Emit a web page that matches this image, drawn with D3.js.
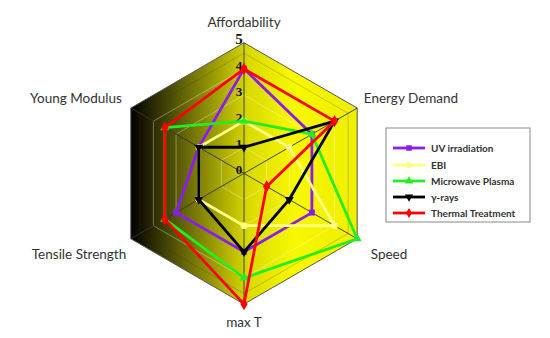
<!DOCTYPE html>
<html>
<head>
<meta charset="utf-8" />
<title>radar</title>
<script src="https://cdn.jsdelivr.net/npm/d3@7"></script>
<style>
  body { margin: 0; background: #fff; }
  svg text { font-family: Lato, "Open Sans", sans-serif; }
</style>
</head>
<body>
<div id="chart"></div>
<script>
var axes = ["Affordability", "Energy Demand", "Speed", "max T", "Tensile Strength", "Young Modulus"];
var seriesNames = ["UV irradiation", "EBI", "Microwave Plasma", "\u03b3-rays", "Thermal Treatment"];
var uv = [4, 3, 3, 3, 3, 2];
var ebi = [2, 2, 4, 2, 2, 2];
var microwave = [2, 3, 5, 4, 3.5, 3.5];
var gamma = [1, 4, 2, 3, 2, 2];
var thermal = [4, 4, 1, 5, 3.5, 3.5];
var ticks = [0, 1, 2, 3, 4, 5];

var colors = ["#8b1cf0", "#ffff80", "#22ee22", "#000000", "#ff0000"];
var symbols = [d3.symbolSquare, d3.symbolCircle, d3.symbolTriangle, d3.symbolTriangle, d3.symbolDiamond];
var values = [uv, ebi, microwave, gamma, thermal];

var width = 550, height = 338;
var cx = 244, cy = 173.4, R = 130.7;

var svg = d3.select("#chart").append("svg")
    .attr("width", width)
    .attr("height", height);

var r = d3.scaleLinear().domain([0, 5]).range([0, R]);
var angle = d3.scalePoint().domain(axes).range([0, 2 * Math.PI * 5 / 6]);

function pt(axis, v) {
    var a = angle(axis) - Math.PI / 2;
    return [cx + r(v) * Math.cos(a), cy + r(v) * Math.sin(a)];
}

var defs = svg.append("defs");
var grad = defs.append("linearGradient")
    .attr("id", "bg")
    .attr("gradientUnits", "userSpaceOnUse")
    .attr("x1", cx - R * 0.866).attr("x2", cx + R * 0.866)
    .attr("y1", 0).attr("y2", 0);
grad.append("stop").attr("offset", "0").attr("stop-color", "#000000");
grad.append("stop").attr("offset", "0.25").attr("stop-color", "#6a6a08");
grad.append("stop").attr("offset", "0.52").attr("stop-color", "#dada00");
grad.append("stop").attr("offset", "0.72").attr("stop-color", "#f8f800");
grad.append("stop").attr("offset", "1").attr("stop-color", "#eeee00");

var line = d3.line();

// background hexagon
svg.append("path")
    .attr("d", line(axes.map(function (a) { return pt(a, 5); })) + "Z")
    .attr("fill", "url(#bg)")
    .attr("stroke", "#555")
    .attr("stroke-width", 1);

// grid
var g = svg.append("g");
[1, 2, 3, 4].forEach(function (t) {
    g.append("path")
        .attr("d", line(axes.map(function (a) { return pt(a, t); })) + "Z")
        .attr("fill", "none")
        .attr("stroke", "rgba(255,255,255,0.35)")
        .attr("stroke-width", 1);
});
g.append("path")
    .attr("d", line(axes.map(function (a) { return pt(a, 4.6); })) + "Z")
    .attr("fill", "none")
    .attr("stroke", "rgba(60,60,0,0.3)")
    .attr("stroke-width", 0.8);
axes.forEach(function (a) {
    var p = pt(a, 5);
    g.append("line")
        .attr("x1", cx).attr("y1", cy)
        .attr("x2", p[0]).attr("y2", p[1])
        .attr("stroke", "#333")
        .attr("stroke-width", 0.9);
});

// tick labels
svg.selectAll(".tick")
    .data(ticks)
    .enter().append("text")
    .attr("class", "tick")
    .attr("x", cx - 5)
    .attr("y", function (d) { return cy - r(d) + 1; })
    .attr("text-anchor", "middle")
    .style("font-family", "'Liberation Serif', 'DejaVu Serif', serif")
    .style("font-weight", "bold")
    .style("font-size", function (d) { return d == 5 ? "15px" : "13px"; })
    .attr("fill", "#111")
    .text(function (d) { return d; });

// series
values.forEach(function (vals, i) {
    var pts = axes.map(function (a, j) { return pt(a, vals[j]); });
    svg.append("path")
        .attr("d", line(pts) + "Z")
        .attr("fill", "none")
        .attr("stroke", colors[i])
        .attr("stroke-width", 2.8)
        .attr("stroke-linejoin", "round");
    svg.selectAll(".m" + i)
        .data(pts)
        .enter().append("path")
        .attr("class", "m" + i)
        .attr("transform", function (d) {
            return "translate(" + d[0] + "," + d[1] + ")" + (i == 3 ? " rotate(180)" : "");
        })
        .attr("d", d3.symbol().type(symbols[i]).size(i == 4 ? 45 : 35))
        .attr("fill", colors[i]);
});

// axis labels
var labelPos = {
    "Affordability": [244, 27],
    "Energy Demand": [411, 103],
    "Speed": [389, 259],
    "max T": [244, 327],
    "Tensile Strength": [79, 259],
    "Young Modulus": [76, 103]
};
axes.forEach(function (a) {
    svg.append("text")
        .attr("x", labelPos[a][0])
        .attr("y", labelPos[a][1])
        .attr("text-anchor", "middle")
        .style("font-size", "13.5px")
        .attr("fill", "#333")
        .text(a);
});

// legend
var lg = svg.append("g").attr("transform", "translate(386,128)");
lg.append("rect")
    .attr("width", 144).attr("height", 94)
    .attr("fill", "#fff")
    .attr("stroke", "#888")
    .attr("stroke-width", 1);
var rows = [20, 37, 53, 69, 85];
seriesNames.forEach(function (n, i) {
    var y = rows[i];
    lg.append("line")
        .attr("x1", 7).attr("x2", 39)
        .attr("y1", y).attr("y2", y)
        .attr("stroke", colors[i])
        .attr("stroke-width", 2.8);
    lg.append("path")
        .attr("transform", "translate(23," + y + ")" + (i == 3 ? " rotate(180)" : ""))
        .attr("d", d3.symbol().type(symbols[i]).size(30))
        .attr("fill", colors[i]);
    lg.append("text")
        .attr("x", 45).attr("y", y + 3.5)
        .style("font-size", "10px")
        .style("font-weight", "bold")
        .attr("fill", "#333")
        .text(n);
});
</script>
</body>
</html>
